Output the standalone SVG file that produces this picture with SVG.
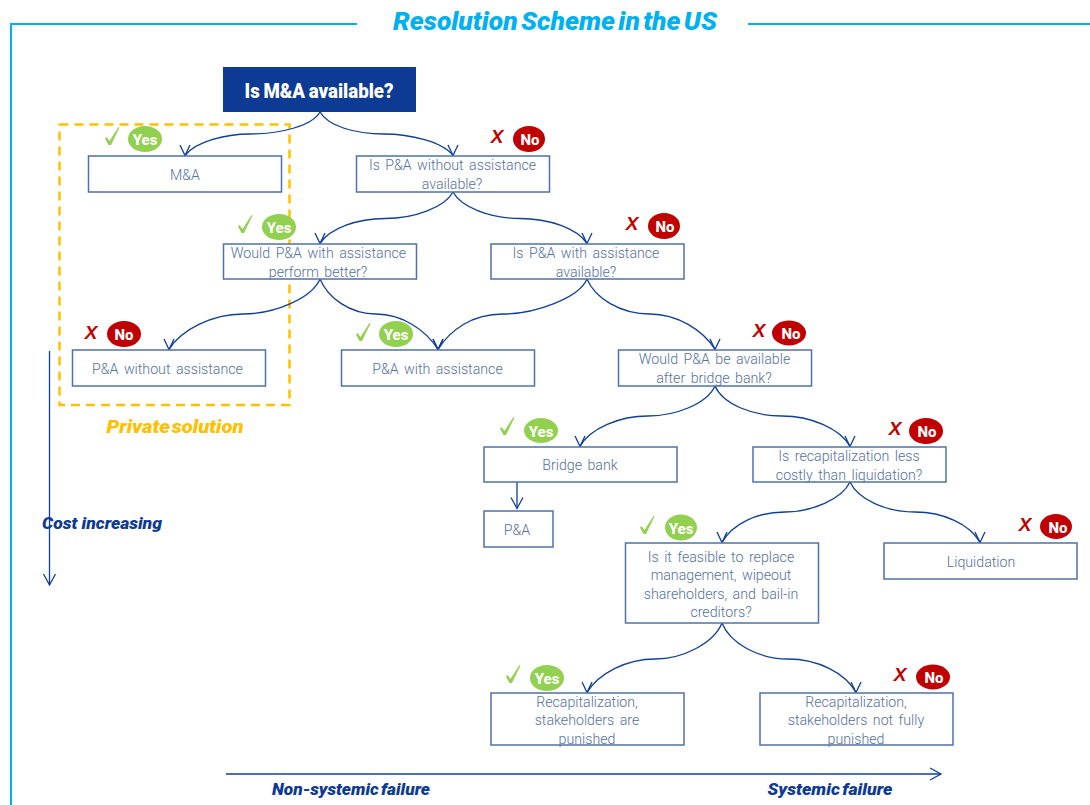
<svg xmlns="http://www.w3.org/2000/svg" width="1090" height="805" viewBox="0 0 1090 805">
<style>
.box{fill:#fff;stroke:#4f72a8;stroke-width:1.5}
.t{font-family:"Roboto","Liberation Sans",sans-serif;font-weight:300;font-size:14.2px;fill:#54709f;text-anchor:middle;word-spacing:2px}
.c{fill:none;stroke:#0f3e96;stroke-width:1.3}
.y{fill:#92d050}.n{fill:#c00000}
.bt{font-family:"Roboto","Liberation Sans",sans-serif;font-weight:800;font-size:15px;fill:#fff;text-anchor:middle}
.ck{fill:#92d050}
.x{font-family:"Liberation Sans",sans-serif;font-weight:700;font-style:italic;font-size:19px;fill:#c00000;text-anchor:middle}
.it{font-family:"Roboto","Liberation Sans",sans-serif;font-weight:900;font-style:italic;text-anchor:middle}
</style>
<defs>
<marker id="a" markerUnits="userSpaceOnUse" markerWidth="16" markerHeight="16" refX="10.500" refY="5" orient="90" overflow="visible"><path d="M0,0L10.500,5L0,10" fill="none" stroke="#0f3e96" stroke-width="1.3"/></marker>
<marker id="s" markerUnits="userSpaceOnUse" markerWidth="16" markerHeight="16" refX="11" refY="6" orient="auto" overflow="visible"><path d="M0,0L11,6L0,12" fill="none" stroke="#0f3e96" stroke-width="1.3"/></marker>
<path id="ck" d="M0,11.500L1.500,10L4.500,14L13.500,0L14.500,0.500L6,18H3.500Z"/>
</defs>
<g id="frame" fill="none" stroke="#00b0f0" stroke-width="2"><path d="M357,24H11V805"/><path d="M748,24H1090"/></g>
<text class="it" x="555" y="30" font-size="25" fill="#00b0f0" textLength="324" lengthAdjust="spacingAndGlyphs" word-spacing="-3">Resolution Scheme in the US</text>
<rect id="private-solution" x="59.500" y="124.500" width="230" height="280.500" fill="none" stroke="#ffc000" stroke-width="2.500" stroke-dasharray="9 6"/>
<text class="it" x="175" y="433" font-size="19" fill="#ffc000" textLength="137" lengthAdjust="spacingAndGlyphs" word-spacing="-3">Private solution</text>
<g id="root"><rect x="223" y="67" width="193" height="45" fill="#0d3a92"/><text class="it" style="font-style:normal" x="319" y="98" font-size="20" fill="#fff" textLength="149" lengthAdjust="spacingAndGlyphs" word-spacing="-1">Is M&amp;A available?</text></g>
<g id="connectors">
<path class="c" marker-end="url(#a)" d="M320,112C312,126 280,134 250,134C225,134 195,142 185,155.500"/>
<path class="c" marker-end="url(#a)" d="M320,112C328,126 355,134 384,134C410,134 443,142 453,155.500"/>
<path class="c" marker-end="url(#a)" d="M453,192C445,207 415,218.500 385,218.500C358,218.500 330,228 320,243.500"/>
<path class="c" marker-end="url(#a)" d="M453,192C461,207 490,218.500 520,218.500C548,218.500 577,228 587,243.500"/>
<path class="c" marker-end="url(#a)" d="M320,279C312,298 275,314 243,314C212,314 181,330 169,349.500"/>
<path class="c" marker-end="url(#a)" d="M320,279C328,298 350,314 376,314C402,314 426,330 438,349.500"/>
<path class="c" marker-end="url(#a)" d="M587,279C579,298 535,314 503,314C472,314 450,330 438,349.500"/>
<path class="c" marker-end="url(#a)" d="M587,279C595,298 620,314 650,314C677,314 703,330 715,349.500"/>
<path class="c" marker-end="url(#a)" d="M715,386C707,404 675,416 648,416C620,416 590,428 580,446.500"/>
<path class="c" marker-end="url(#a)" d="M715,386C723,404 752,416 782,416C810,416 840,428 850,446.500"/>
<path class="c" marker-end="url(#a)" d="M850,482C842,499 812,512 785,512C757,512 732,524 722,542.500"/>
<path class="c" marker-end="url(#a)" d="M850,482C858,499 885,512 915,512C943,512 970,524 980,542.500"/>
<path class="c" marker-end="url(#a)" d="M722,623C714,643 683,659 655,659C627,659 599,673 587,692.500"/>
<path class="c" marker-end="url(#a)" d="M722,623C730,643 758,659 788,659C818,659 845,673 856,692.500"/>
<path class="c" marker-end="url(#s)" d="M517,482V508.500"/>
<path class="c" marker-end="url(#s)" d="M49.500,351V585"/>
<path class="c" marker-end="url(#s)" d="M226,774H941"/>
</g>
<g id="n1"><rect class="box" x="88.500" y="156" width="193" height="36"/><text class="t" x="185" y="180">M&amp;A</text></g>
<g id="n2"><rect class="box" x="356.500" y="156" width="193" height="36"/><text class="t" x="452.500" y="170">Is P&amp;A without assistance</text><text class="t" x="452" y="189">available?</text></g>
<g id="n3"><rect class="box" x="223.500" y="244" width="193" height="35"/><text class="t" x="318.500" y="258">Would P&amp;A with assistance</text><text class="t" x="318" y="277">perform better?</text></g>
<g id="n4"><rect class="box" x="491" y="244" width="193" height="35"/><text class="t" x="586" y="258">Is P&amp;A with assistance</text><text class="t" x="586" y="277">available?</text></g>
<g id="n5"><rect class="box" x="72.500" y="350" width="193" height="36"/><text class="t" x="167.500" y="374">P&amp;A without assistance</text></g>
<g id="n6"><rect class="box" x="341.500" y="350" width="193" height="36"/><text class="t" x="437.500" y="374">P&amp;A with assistance</text></g>
<g id="n7"><rect class="box" x="618.500" y="350" width="193" height="36"/><text class="t" x="714.500" y="364">Would P&amp;A be available</text><text class="t" x="714" y="383">after bridge bank?</text></g>
<g id="n8"><rect class="box" x="484" y="447" width="193" height="35"/><text class="t" x="580" y="470">Bridge bank</text></g>
<g id="n9"><rect class="box" x="753" y="447" width="193" height="35"/><text class="t" x="849" y="461">Is recapitalization less</text><text class="t" x="849" y="480">costly than liquidation?</text></g>
<g id="n10"><rect class="box" x="484" y="511" width="69" height="36"/><text class="t" x="517" y="535">P&amp;A</text></g>
<g id="n11"><rect class="box" x="625.500" y="543" width="193" height="80"/><text class="t" x="721" y="562">Is it feasible to replace</text><text class="t" x="721" y="580">management, wipeout</text><text class="t" x="721" y="599">shareholders, and bail-in</text><text class="t" x="721" y="617">creditors?</text></g>
<g id="n12"><rect class="box" x="884" y="543" width="193" height="36"/><text class="t" x="981" y="567">Liquidation</text></g>
<g id="n13"><rect class="box" x="491" y="693" width="193" height="52"/><text class="t" x="587" y="707">Recapitalization,</text><text class="t" x="587" y="725">stakeholders are</text><text class="t" x="587" y="744">punished</text></g>
<g id="n14"><rect class="box" x="760" y="693" width="193" height="52"/><text class="t" x="856" y="707">Recapitalization,</text><text class="t" x="856" y="725">stakeholders not fully</text><text class="t" x="856" y="744">punished</text></g>
<g id="b1"><use class="ck" href="#ck" x="105" y="127"/><ellipse class="y" cx="145" cy="139" rx="17" ry="13"/><text class="bt" x="145" y="145">Yes</text></g>
<g id="b2"><text class="x" x="497" y="143">X</text><ellipse class="n" cx="529" cy="139" rx="16" ry="13"/><text class="bt" x="530" y="145">No</text></g>
<g id="b3"><use class="ck" href="#ck" x="238" y="215"/><ellipse class="y" cx="279" cy="227" rx="17" ry="13"/><text class="bt" x="279" y="233">Yes</text></g>
<g id="b4"><text class="x" x="632" y="230">X</text><ellipse class="n" cx="664" cy="226" rx="16" ry="13"/><text class="bt" x="665" y="232">No</text></g>
<g id="b5"><text class="x" x="91" y="339">X</text><ellipse class="n" cx="124" cy="334" rx="17" ry="13"/><text class="bt" x="124" y="340">No</text></g>
<g id="b6"><use class="ck" href="#ck" x="356" y="323"/><ellipse class="y" cx="396" cy="334" rx="17" ry="13"/><text class="bt" x="396" y="340">Yes</text></g>
<g id="b7"><text class="x" x="759" y="337">X</text><ellipse class="n" cx="789" cy="333" rx="17" ry="12.500"/><text class="bt" x="791" y="339">No</text></g>
<g id="b8"><use class="ck" href="#ck" x="500" y="417"/><ellipse class="y" cx="541" cy="430.500" rx="17" ry="12.500"/><text class="bt" x="541" y="437">Yes</text></g>
<g id="b9"><text class="x" x="895" y="435">X</text><ellipse class="n" cx="926" cy="431" rx="17" ry="13"/><text class="bt" x="927" y="437">No</text></g>
<g id="b10"><use class="ck" href="#ck" x="640" y="516"/><ellipse class="y" cx="681" cy="527.500" rx="16" ry="13"/><text class="bt" x="681" y="534">Yes</text></g>
<g id="b11"><text class="x" x="1025" y="531">X</text><ellipse class="n" cx="1056" cy="526.500" rx="16" ry="12.500"/><text class="bt" x="1058" y="533">No</text></g>
<g id="b12"><use class="ck" href="#ck" x="506" y="665"/><ellipse class="y" cx="547" cy="678" rx="17" ry="13"/><text class="bt" x="547" y="684">Yes</text></g>
<g id="b13"><text class="x" x="900" y="681">X</text><ellipse class="n" cx="933" cy="677" rx="17" ry="12.500"/><text class="bt" x="934" y="683">No</text></g>
<text class="it" x="102" y="529" font-size="16.500" fill="#0d3a92" textLength="120" lengthAdjust="spacingAndGlyphs">Cost increasing</text>
<text class="it" x="351" y="795" font-size="17" fill="#0d3a92" textLength="158" lengthAdjust="spacingAndGlyphs" word-spacing="-2">Non-systemic failure</text>
<text class="it" x="830" y="795" font-size="17" fill="#0d3a92" textLength="125" lengthAdjust="spacingAndGlyphs" word-spacing="-2">Systemic failure</text>
</svg>
